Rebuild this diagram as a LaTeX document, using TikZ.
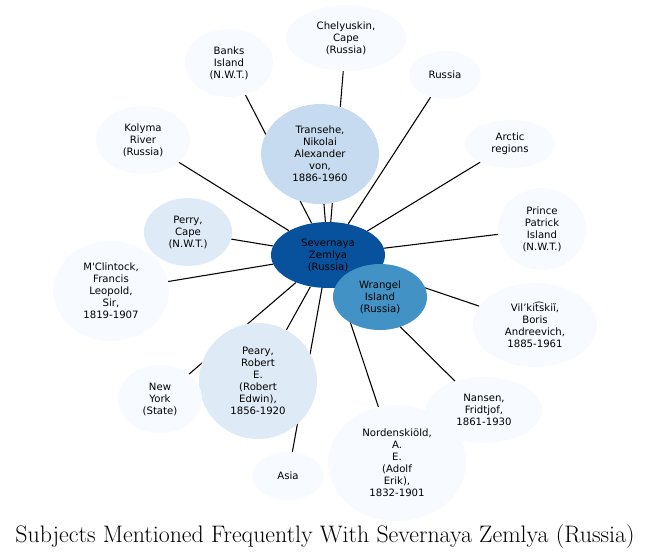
\documentclass[tikz,border=0pt]{standalone}
\usepackage{fontspec}
\usepackage{tikz}
\usetikzlibrary{shapes.geometric,backgrounds}
\newfontfamily\subjfont{DejaVu Sans}
\definecolor{hubblue}{HTML}{08519C}
\definecolor{midblue}{HTML}{4292C6}
\definecolor{paleblue}{HTML}{C6DBEF}
\definecolor{softblue}{HTML}{DEEBF7}
\definecolor{leafblue}{HTML}{F7FBFF}
\tikzset{
  subjnode/.style={ellipse,draw=none,inner sep=0pt,align=center,
    font=\subjfont\fontsize{7.6}{9}\selectfont},
  rad/.style 2 args={minimum width={0.75pt*#1},minimum height={0.75pt*#2}},
  hubnode/.style={subjnode,fill=hubblue},
  wrnode/.style={subjnode,fill=midblue},
  tranode/.style={subjnode,fill=paleblue},
  softnode/.style={subjnode,fill=softblue},
  leafnode/.style={subjnode,fill=leafblue},
  spoke/.style={line width=0.8pt,black},
}

\begin{document}
\begin{tikzpicture}[x=0.75pt,y=-0.75pt]
  \useasboundingbox (0,0) rectangle (649,558);
  \node[hubnode,rad={114}{66}] (nSev) at (328,255) {Severnaya\\Zemlya\\(Russia)};
  \node[wrnode,rad={94}{66}] (nWra) at (380,297) {Wrangel\\Island\\(Russia)};
  \node[tranode,rad={118}{100}] (nTra) at (320,154) {Transehe,\\Nikolai\\Alexander\\von,\\1886-1960};
  \node[softnode,rad={118}{116}] (nPea) at (258,381) {Peary,\\Robert\\E.\\(Robert\\Edwin),\\1856-1920};
  \node[softnode,rad={88}{68}] (nPer) at (188,232) {Perry,\\Cape\\(N.W.T.)};
  \node[leafnode,rad={120}{66}] (nChe) at (346,38) {Chelyuskin,\\Cape\\(Russia)};
  \node[leafnode,rad={88}{68}] (nBan) at (229,63) {Banks\\Island\\(N.W.T.)};
  \node[leafnode,rad={72}{48}] (nRus) at (445,75) {Russia};
  \node[leafnode,rad={94}{68}] (nKol) at (143,140) {Kolyma\\River\\(Russia)};
  \node[leafnode,rad={90}{48}] (nArc) at (510,144) {Arctic\\regions};
  \node[leafnode,rad={88}{82}] (nPri) at (542,229) {Prince\\Patrick\\Island\\(N.W.T.)};
  \node[leafnode,rad={116}{100}] (nMcc) at (111,291) {M'Clintock,\\Francis\\Leopold,\\Sir,\\1819-1907};
  \node[leafnode,rad={124}{84}] (nVil) at (535,325) {Vil’kit͡skiĭ,\\Boris\\Andreevich,\\1885-1961};
  \node[leafnode,rad={84}{68}] (nNew) at (160,399) {New\\York\\(State)};
  \node[leafnode,rad={116}{66}] (nNan) at (484,410) {Nansen,\\Fridtjof,\\1861-1930};
  \node[leafnode,rad={138}{116}] (nNor) at (397,463) {Nordenskiöld,\\A.\\E.\\(Adolf\\Erik),\\1832-1901};
  \node[leafnode,rad={72}{48}] (nAsi) at (288,476) {Asia};
  \begin{scope}[on background layer]
    \foreach \leaf in {nWra,nTra,nPea,nPer,nChe,nBan,nRus,nKol,nArc,nPri,nMcc,nVil,nNew,nNan,nNor,nAsi}
      \draw[spoke] (nSev) -- (\leaf);
  \end{scope}
  \node[font=\fontsize{17.9}{20}\selectfont] (title) at (325,537) {Subjects Mentioned Frequently With Severnaya Zemlya (Russia)};
\end{tikzpicture}
\end{document}
